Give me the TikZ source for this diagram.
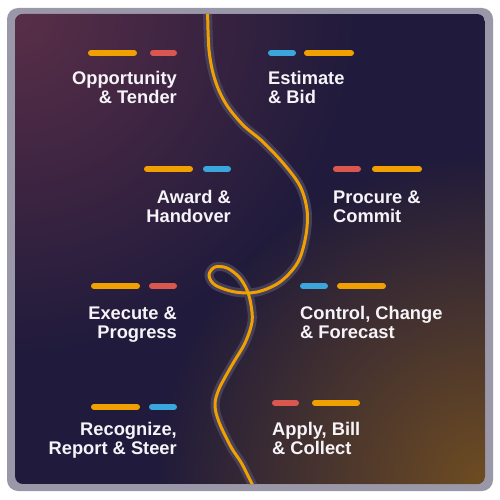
\documentclass[tikz,border=0pt]{standalone}
\usepackage{fontspec}
\setmainfont{Liberation Sans}
\usetikzlibrary{fadings}
\definecolor{framegray}{HTML}{9A98A8}
\definecolor{navy}{HTML}{201B3C}
\definecolor{maroon}{HTML}{5A2F48}
\definecolor{brownc}{HTML}{6F4D22}
\definecolor{orangec}{HTML}{F0A000}
\definecolor{redc}{HTML}{D9574F}
\definecolor{bluec}{HTML}{3AA6DC}
\definecolor{haloc}{HTML}{4D4862}
\definecolor{textc}{HTML}{F6F4F8}
\tikzfading[name=radfade, inner color=transparent!0, outer color=transparent!100]
\tikzset{
  bar/.style={line width=6pt, line cap=round},
  lbl/.style={inner sep=0pt, text=textc, font=\fontsize{18.3}{19}\selectfont\bfseries},
  lleft/.style={lbl, align=right, anchor=base east},
  lright/.style={lbl, align=left, anchor=base west},
}
\begin{document}
\begin{tikzpicture}[x=1pt,y=-1pt]
\useasboundingbox (0,0) rectangle (500,500);
\fill[white] (0,0) rectangle (500,500);
\fill[framegray, rounded corners=11pt] (7,8) rectangle (493,491);
\begin{scope}
\clip[rounded corners=8pt] (15,14) rectangle (485,484);
\fill[navy] (15,14) rectangle (485,484);
\fill[maroon, path fading=radfade] (15,14) circle (340pt);
\fill[brownc, path fading=radfade] (485,484) circle (330pt);
\def\curvepath{plot[smooth, tension=0.55] coordinates {(207.5,5) (209,50) (215,80) (226,104) (243,125) (262,141) (283,163) (300,186) (307,210) (306,235) (298,262) (280,282) (257,292) (235,292) (215,285) (209,275) (215,267) (227,268) (239,277) (247,290) (251,305) (252,322) (245,343) (232,365) (219,389) (215,405) (219,422) (231,447) (242,464) (256,492)}}
\draw[haloc, opacity=0.8, line width=9pt, line join=round] \curvepath;
\draw[orangec, line width=3pt, line join=round] \curvepath;
\end{scope}
% bars
\draw[bar, orangec] (91,53) -- (134,53);
\draw[bar, redc] (153,53) -- (174,53);
\draw[bar, bluec] (271,53) -- (293,53);
\draw[bar, orangec] (307,53) -- (351,53);
\draw[bar, orangec] (147,169) -- (190,169);
\draw[bar, bluec] (206,169) -- (228,169);
\draw[bar, redc] (336,169) -- (358,169);
\draw[bar, orangec] (375,169) -- (419,169);
\draw[bar, orangec] (94,286) -- (137,286);
\draw[bar, redc] (152,286) -- (174,286);
\draw[bar, bluec] (303,286) -- (325,286);
\draw[bar, orangec] (340,286) -- (383,286);
\draw[bar, orangec] (94,407) -- (137,407);
\draw[bar, bluec] (152,407) -- (174,407);
\draw[bar, redc] (275,403) -- (296,403);
\draw[bar, orangec] (315,403) -- (357,403);
% labels (anchor at baseline of last line)
\node[lleft] (opp) at (177,104) {Opportunity\\\& Tender};
\node[lright] (est) at (268,104) {Estimate\\\& Bid};
\node[lleft] (awd) at (231,222) {Award \&\\Handover};
\node[lright] (pro) at (333,222) {Procure \&\\Commit};
\node[lleft] (exe) at (177,338) {Execute \&\\Progress};
\node[lright] (ctl) at (300,338) {Control, Change\\\& Forecast};
\node[lleft] (rec) at (177,454) {Recognize,\\Report \& Steer};
\node[lright] (app) at (272,454) {Apply, Bill\\\& Collect};
\end{tikzpicture}
\end{document}
